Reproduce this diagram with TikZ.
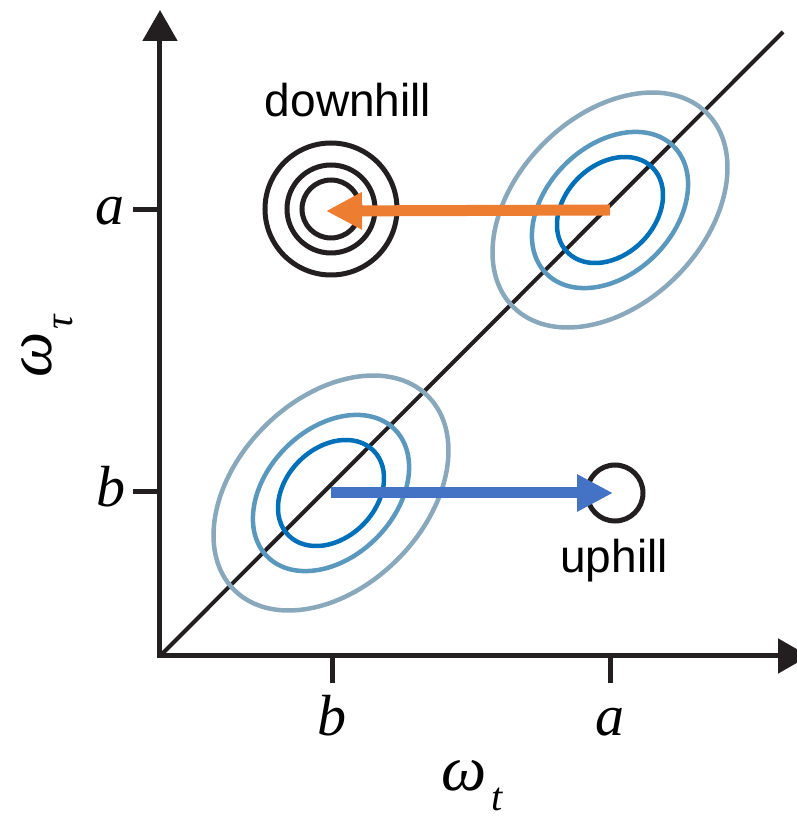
\documentclass[tikz,border=0pt]{standalone}
\usepackage{fontspec}
\setmainfont{Liberation Serif}
\newfontfamily\tagfont{Liberation Sans}
\usetikzlibrary{arrows.meta}
\definecolor{inkblack}{HTML}{231F20}
\definecolor{pushorange}{HTML}{ED7D31}
\definecolor{pushblue}{HTML}{4472C4}
\definecolor{levelouter}{HTML}{8AA8BB}
\definecolor{levelmid}{HTML}{5B98BD}
\definecolor{levelinner}{HTML}{0070B8}
\tikzset{
  axis line/.style={
    {Triangle[length=31pt, width=34pt]}-{Triangle[length=31pt, width=34pt]},
    line width=5pt,
    color=inkblack
  },
  tick mark/.style={
    line width=5pt,
    color=inkblack
  },
  diag line/.style={
    line width=4pt,
    color=inkblack
  },
  tick label/.style={
    inner sep=0pt,
    anchor=base,
    font=\fontsize{58}{58}\selectfont\itshape
  },
  axis label/.style={
    inner sep=0pt,
    anchor=base west,
    font=\fontsize{64}{64}\selectfont\itshape
  },
  hill label/.style={
    inner sep=0pt,
    anchor=base,
    font=\tagfont\fontsize{46}{46}\selectfont
  },
  well ring/.style={
    line width=5pt,
    draw=inkblack
  },
  push arrow/.style={
    -{Triangle[length=36pt, width=35pt]},
    line width=11pt
  },
  level/.style={
    line width=4.5pt
  }
}

\begin{document}
\begin{tikzpicture}[x=1pt, y=1pt]
    % picture frame
    \useasboundingbox (-160,-161) rectangle (637,656);

    % named places
    \coordinate (origin) at (0,0);
    \coordinate (ytop) at (0,646);
    \coordinate (xend) at (649,0);
    \coordinate (diagend) at (623,624);
    \coordinate (lowpeak) at (171,163);
    \coordinate (highpeak) at (450,446);
    \coordinate (downwell) at (171,447);
    \coordinate (downtip) at (166,445);
    \coordinate (upwell) at (455,163);
    \coordinate (uptip) at (453,163);

    % diagonal and axes
    \draw[diag line] (origin) -- (diagend);
    \draw[axis line] (ytop) -- (origin) -- (xend);

    % ticks and their labels
    \draw[tick mark] (172,0) -- (172,-27);
    \draw[tick mark] (450,0) -- (450,-27);
    \draw[tick mark] (0,164) -- (-27,164);
    \draw[tick mark] (0,446) -- (-27,446);
    \node[tick label] (xb) at (172,-79) {b};
    \node[tick label] (xa) at (450,-79) {a};
    \node[tick label] (yb) at (-49,149) {b};
    \node[tick label] (ya) at (-50,431) {a};

    % axis names
    \node[axis label] (xname) at (281,-134)
      {ω\kern5pt\raisebox{-20pt}{\fontsize{40}{40}\selectfont t}};
    \node[axis label, rotate=90] (yname) at (-108,278)
      {ω\kern3pt\raisebox{-21pt}{\fontsize{40}{40}\selectfont τ}};

    % contour levels round both peaks
    \foreach \peak in {lowpeak, highpeak} {
      \draw[level, levelouter, rotate around={45:(\peak)}] (\peak) ellipse [x radius=137pt, y radius=94pt];
      \draw[level, levelmid, rotate around={45:(\peak)}] (\peak) ellipse [x radius=90pt, y radius=64pt];
      \draw[level, levelinner, rotate around={45:(\peak)}] (\peak) ellipse [x radius=60pt, y radius=45pt];
    }

    % wells
    \foreach \r in {66,44,29} {
      \draw[well ring] (downwell) circle [radius=\r pt];
    }
    \draw[well ring] (upwell) circle [radius=28pt];

    % moves
    \draw[push arrow, pushorange] (highpeak) -- (downtip);
    \draw[push arrow, pushblue] (lowpeak) -- (uptip);

    % names of the moves
    \node[hill label] (downname) at (188,539) {downhill};
    \node[hill label] (upname) at (454,83) {uphill};
\end{tikzpicture}
\end{document}
